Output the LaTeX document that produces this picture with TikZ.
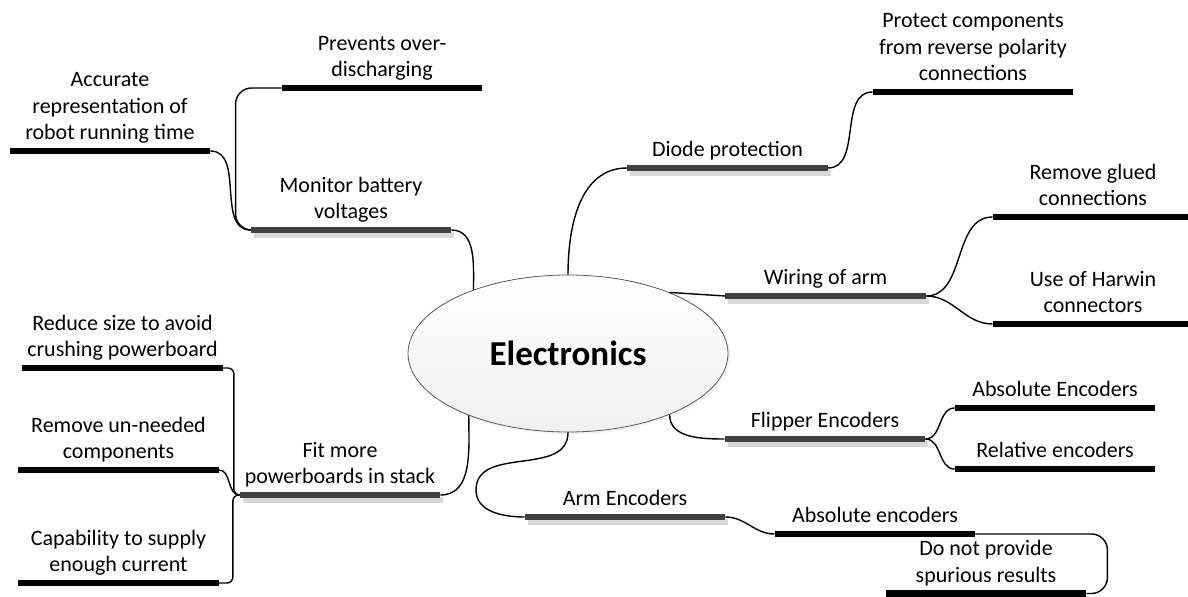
\documentclass[tikz,border=0pt]{standalone}
\usepackage{fontspec}
\setmainfont{Carlito}
\usepackage{tikz}
\usetikzlibrary{shapes.geometric, shadows}
\usepackage{xcolor}
\definecolor{topicgray}{HTML}{404040}
\definecolor{shadowgray}{HTML}{D9D9D9}
\definecolor{hubline}{HTML}{595959}

\begin{document}
\begin{tikzpicture}[x=0.5pt, y=-0.5pt,
      hub/.style={ellipse, draw=hubline, line width=0.4pt, top color=white, bottom color=black!6, minimum width=160pt, minimum height=78.5pt, inner sep=0pt, font=\fontsize{17.5}{21}\selectfont\bfseries, drop shadow={opacity=0.1, shadow xshift=1.2pt, shadow yshift=-1.2pt}},
      leaf/.style={anchor=south, align=center, minimum width=100pt, inner xsep=0pt, inner ysep=1.5pt, font=\fontsize{11}{13.3}\selectfont, execute at end node=\strut},
      topicbar/.style={line width=3pt, topicgray},
      barshadow/.style={line width=3pt, shadowgray},
      leafbar/.style={line width=3.2pt, black},
      link/.style={line width=0.7pt, black},
    ]
    \useasboundingbox (0,0) rectangle (1188,597);
    \clip (0,0) rectangle (1188,597);

    \node[hub] (elec) at (568,353.5) {Electronics};

    % main topics
    \node[leaf] (mon) at (351,230) {Monitor battery\\voltages};
    \node[leaf] (diode) at (727.5,168) {Diode protection};
    \node[leaf] (wire) at (825.5,296) {Wiring of arm};
    \node[leaf] (flip) at (825,439) {Flipper Encoders};
    \node[leaf] (arm) at (625,517) {Arm Encoders};
    \node[leaf] (fit) at (340,495) {Fit more\\powerboards in stack};

    % sub topics
    \node[leaf] (prev) at (382,88) {Prevents over-\\discharging};
    \node[leaf] (acc) at (110,151) {Accurate\\representation of\\robot running time};
    \node[leaf] (prot) at (973,92) {Protect components\\from reverse polarity\\connections};
    \node[leaf] (glue) at (1093,217) {Remove glued\\connections};
    \node[leaf] (harw) at (1093,324) {Use of Harwin\\connectors};
    \node[leaf] (absf) at (1055,408) {Absolute Encoders};
    \node[leaf] (relf) at (1055,469) {Relative encoders};
    \node[leaf] (absa) at (875,534) {Absolute encoders};
    \node[leaf] (dnp) at (986,593.5) {Do not provide\\spurious results};
    \node[leaf] (red) at (122.5,368) {Reduce size to avoid\\crushing powerboard};
    \node[leaf] (rem) at (118.5,470) {Remove un-needed\\components};
    \node[leaf] (cap) at (118.5,583) {Capability to supply\\enough current};

    \coordinate (armbend) at (476,490);

    % links
    \draw[link] (mon.south east) to[out=0, in=90] (elec.146);
    \draw[link, rounded corners=8pt] (mon.south west) -| ([shift={(-46,0)}]prev.south west) -- (prev.south west);
    \draw[link] (mon.south west) to[out=180, in=0] (acc.south east);
    \draw[link] (elec.north) to[out=90, in=180] (diode.south west);
    \draw[link] (diode.south east) to[out=0, in=180] (prot.south west);
    \draw[link] (elec.31.5) -- (wire.south west);
    \draw[link] (wire.south east) to[out=0, in=180] (glue.south west);
    \draw[link] (wire.south east) to[out=0, in=180] (harw.south west);
    \draw[link] (elec.-31.5) to[out=-90, in=180] (flip.south west);
    \draw[link] (flip.south east) to[out=0, in=180] (absf.south west);
    \draw[link] (flip.south east) to[out=0, in=180] (relf.south west);
    \draw[link] (elec.south) .. controls +(0,45) and +(0,-45) .. (armbend) to[out=-90, in=180] (arm.south west);
    \draw[link] (arm.south east) to[out=0, in=180] (absa.south west);
    \draw[link, rounded corners=8pt] (absa.south east) -| ([shift={(21,0)}]dnp.south east) -- (dnp.south east);
    \draw[link] (fit.south east) to[out=0, in=-90] (elec.212.3);
    \draw[link, rounded corners=3pt] (fit.south west) -| ([shift={(11,0)}]red.south east) -- (red.south east);
    \draw[link] (fit.south west) to[out=180, in=0] (rem.south east);
    \draw[link, rounded corners=3pt] (fit.south west) -| ([shift={(14,0)}]cap.south east) -- (cap.south east);

    % bars
    \foreach \n in {mon, diode, wire, flip, arm, fit} {
      \draw[barshadow] ([shift={(3,5)}]\n.south west) -- ([shift={(3,5)}]\n.south east);
      \draw[topicbar] (\n.south west) -- (\n.south east);
    }
    \foreach \n in {prev, acc, prot, glue, harw, absf, relf, absa, dnp, red, rem, cap}
      \draw[leafbar] (\n.south west) -- (\n.south east);
  \end{tikzpicture}
\end{document}
